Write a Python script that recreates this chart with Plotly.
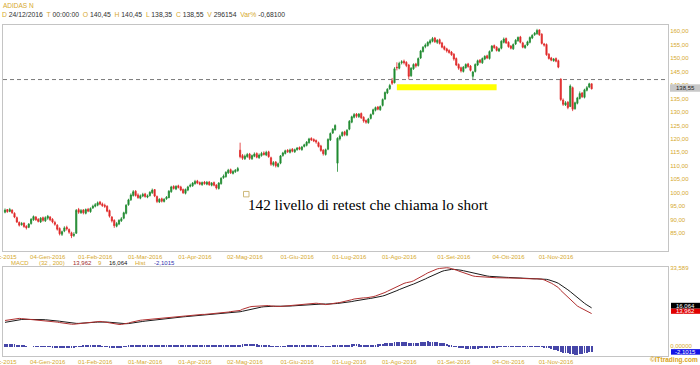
import plotly.graph_objects as go
import pandas as pd

# ---------------- data ----------------
opens = [
    92.8, 93.8, 93.1, 93.6, 92.4, 90.8, 89.0, 88.2, 88.8, 87.6,
    87.2, 88.6, 90.0, 91.0, 90.2, 89.2, 90.8, 89.6, 90.6, 91.0,
    90.2, 89.0, 88.0, 86.8, 84.6, 85.8, 87.2, 86.4, 85.2, 84.2,
    85.0, 93.8, 92.6, 93.6, 92.4, 93.9, 93.0, 94.4, 95.0, 95.4,
    96.6, 95.9, 95.4, 95.0, 93.4, 91.0, 89.8, 87.6, 88.4, 89.6,
    90.6, 92.4, 95.6, 97.4, 99.0, 100.6, 99.2, 98.0, 98.8, 99.6,
    98.4, 99.0, 100.0, 101.2, 98.6, 96.6, 97.8, 96.8, 97.8, 98.2,
    100.4, 102.4, 101.4, 102.6, 102.2, 101.2, 99.8, 101.0, 102.4, 102.6,
    103.4, 104.4, 103.8, 103.0, 104.0, 103.2, 104.0, 102.8, 103.8, 102.9,
    101.6, 103.4, 105.6, 106.0, 107.4, 108.6, 107.2, 107.8, 108.2, 115.8,
    113.8, 112.6, 113.4, 114.4, 112.6, 113.6, 114.6, 113.0, 113.8, 114.8,
    114.0, 115.2, 113.0, 110.4, 111.4, 109.8, 111.0, 113.8, 114.6, 115.8,
    115.0, 116.2, 115.2, 116.0, 116.8, 116.0, 117.2, 117.6, 118.6, 120.2,
    119.8, 119.4, 118.6, 117.4, 115.8, 114.2, 116.2, 119.6, 122.2, 123.4,
    111.0, 120.0, 121.2, 122.6, 121.4, 123.6, 126.2, 128.0, 129.2, 128.2,
    129.4, 128.0, 126.8, 126.0, 127.6, 129.2, 130.6, 131.8, 130.8, 132.4,
    134.8, 137.0, 138.6, 141.6, 140.8, 146.6, 146.2, 148.2, 148.8, 148.4,
    147.4, 143.4, 146.0, 147.8, 147.2, 150.0, 152.4, 154.2, 154.6, 155.6,
    156.2, 157.4, 155.8, 156.8, 155.6, 154.2, 153.4, 152.8, 152.2, 151.4,
    149.8, 147.6, 146.4, 145.0, 146.4, 147.8, 147.0, 143.2, 145.0, 147.4,
    149.2, 148.2, 149.6, 150.8, 149.8, 152.6, 154.6, 154.0, 152.6, 153.6,
    155.8, 157.2, 155.8, 154.4, 153.4, 155.2, 156.4, 157.8, 155.6, 153.8,
    154.8, 155.8, 157.4, 158.6, 159.0, 160.4, 158.8, 155.2, 155.0, 151.4,
    150.0, 149.0, 149.8, 149.0, 142.2, 134.4, 132.6, 133.6, 132.0, 139.0,
    131.2, 133.2, 135.0, 137.0, 135.4, 138.0, 139.2, 140.45,
]
highs = [
    94.2, 94.0, 94.4, 93.9, 92.8, 91.2, 89.4, 89.2, 89.0, 88.0,
    88.8, 90.6, 91.6, 91.4, 90.6, 91.0, 91.2, 91.3, 91.8, 91.4,
    90.6, 89.6, 88.4, 87.2, 86.0, 87.6, 87.8, 86.8, 85.6, 85.4,
    94.0, 94.4, 94.0, 94.0, 94.2, 94.4, 94.6, 95.6, 96.2, 96.8,
    97.0, 96.4, 96.0, 95.4, 93.8, 91.4, 90.2, 89.2, 90.2, 91.0,
    93.0, 95.8, 97.8, 99.8, 101.0, 101.0, 99.8, 99.4, 100.0, 100.0,
    99.4, 100.6, 101.6, 101.4, 99.0, 98.0, 98.2, 98.0, 98.8, 101.0,
    102.6, 102.8, 102.8, 103.0, 102.6, 101.6, 101.6, 102.6, 103.4, 104.0,
    104.8, 104.8, 104.2, 104.2, 104.4, 104.4, 104.4, 104.0, 104.2, 103.2,
    104.0, 105.8, 106.8, 108.0, 108.9, 109.0, 108.4, 108.8, 109.6, 118.6,
    114.4, 114.2, 114.8, 114.8, 114.2, 115.0, 115.0, 114.6, 115.2, 115.4,
    115.6, 115.6, 113.4, 111.8, 111.8, 111.2, 114.0, 115.2, 116.0, 116.2,
    116.4, 116.6, 116.4, 117.0, 117.2, 117.4, 118.2, 119.2, 120.4, 120.6,
    120.2, 119.8, 119.0, 117.8, 116.2, 116.4, 120.2, 122.4, 124.0, 125.4,
    120.6, 121.6, 122.8, 123.0, 123.6, 127.0, 128.6, 129.6, 129.6, 129.6,
    129.8, 128.4, 127.2, 127.8, 129.4, 131.2, 132.0, 132.2, 132.4, 135.0,
    137.6, 138.8, 140.4, 142.6, 146.6, 148.4, 148.6, 149.2, 149.4, 148.8,
    147.8, 146.6, 148.0, 148.2, 150.2, 153.0, 154.4, 155.4, 156.2, 157.0,
    157.8, 157.8, 157.0, 157.2, 156.0, 154.6, 153.8, 153.2, 152.6, 151.8,
    150.2, 148.0, 146.8, 147.0, 148.0, 148.2, 147.4, 145.2, 148.0, 149.4,
    149.6, 150.2, 151.0, 151.2, 152.8, 154.8, 155.0, 154.4, 153.8, 156.6,
    157.6, 157.6, 156.2, 154.8, 155.4, 157.0, 158.0, 158.2, 156.0, 155.0,
    156.4, 158.0, 158.8, 159.6, 160.8, 160.6, 159.2, 155.6, 155.4, 151.8,
    150.4, 150.0, 150.2, 149.4, 142.4, 135.0, 134.0, 134.0, 140.2, 139.4,
    133.8, 135.6, 137.6, 137.4, 138.6, 139.6, 140.8, 140.45,
]
lows = [
    92.4, 92.6, 92.8, 92.2, 90.6, 88.8, 87.5, 87.8, 87.0, 86.4,
    86.9, 88.2, 89.6, 89.6, 89.0, 88.8, 89.3, 89.2, 90.0, 89.5,
    88.7, 87.8, 86.0, 84.2, 84.0, 85.4, 86.0, 84.8, 83.2, 83.6,
    84.8, 92.2, 92.2, 92.0, 92.0, 92.8, 92.6, 94.0, 94.6, 95.0,
    95.4, 94.8, 94.4, 92.8, 90.8, 89.0, 87.0, 87.2, 88.0, 89.2,
    90.2, 92.0, 95.2, 97.0, 98.6, 98.6, 97.8, 97.6, 98.4, 98.2,
    98.0, 98.6, 99.6, 98.4, 96.2, 96.2, 96.4, 96.4, 97.4, 98.0,
    100.0, 101.2, 101.0, 101.6, 100.6, 99.6, 99.4, 100.6, 102.0, 102.2,
    103.0, 103.2, 102.8, 102.6, 103.0, 102.8, 102.6, 102.4, 102.4, 101.2,
    101.2, 103.0, 105.2, 105.6, 107.0, 107.0, 106.8, 107.4, 107.8, 112.8,
    112.2, 112.2, 113.0, 112.2, 112.2, 113.2, 112.8, 112.6, 113.4, 113.8,
    113.6, 113.0, 110.0, 109.8, 109.4, 109.4, 110.6, 113.4, 114.2, 114.8,
    114.6, 115.0, 114.8, 115.6, 115.8, 115.6, 116.8, 117.2, 118.2, 119.2,
    118.8, 118.2, 116.8, 115.2, 113.8, 113.8, 115.8, 119.2, 121.8, 123.0,
    107.8, 119.4, 120.8, 121.0, 121.0, 123.2, 125.8, 127.6, 127.8, 127.8,
    127.4, 126.0, 125.6, 125.6, 127.2, 128.8, 130.2, 130.6, 130.4, 132.0,
    134.4, 136.6, 138.2, 140.0, 140.6, 145.4, 145.8, 147.6, 147.6, 146.6,
    142.0, 143.0, 145.6, 146.4, 146.8, 149.6, 152.0, 153.6, 154.2, 155.0,
    155.8, 155.6, 155.2, 155.0, 153.6, 152.8, 152.0, 151.6, 150.8, 149.0,
    147.0, 145.6, 144.6, 144.6, 146.0, 146.4, 145.0, 142.2, 144.6, 147.0,
    148.0, 147.8, 149.2, 149.6, 149.4, 152.2, 153.4, 152.4, 152.2, 153.2,
    155.4, 155.2, 153.8, 153.2, 153.0, 154.8, 156.0, 155.4, 153.6, 153.4,
    154.4, 155.4, 157.0, 158.2, 158.6, 158.2, 155.0, 154.2, 150.8, 149.4,
    148.8, 148.6, 148.4, 146.2, 134.0, 132.2, 132.2, 131.0, 131.8, 130.3,
    130.8, 132.8, 134.6, 135.2, 135.0, 137.6, 138.8, 138.35,
]
closes = [
    93.6, 93.0, 93.8, 92.6, 91.0, 89.2, 88.0, 88.6, 87.5, 87.0,
    88.4, 90.2, 91.2, 90.0, 89.4, 90.6, 89.8, 90.8, 91.3, 90.0,
    89.2, 88.3, 86.5, 84.8, 85.6, 87.0, 86.6, 85.4, 84.0, 84.6,
    93.5, 92.8, 93.4, 92.6, 93.8, 93.2, 94.2, 95.0, 95.6, 96.3,
    95.8, 95.2, 95.0, 93.2, 91.3, 89.6, 87.8, 88.6, 89.8, 90.4,
    92.6, 95.4, 97.4, 99.2, 100.4, 99.0, 98.2, 98.9, 99.4, 98.6,
    98.9, 100.2, 101.0, 98.8, 96.8, 97.6, 96.9, 97.6, 98.4, 100.6,
    102.2, 101.6, 102.4, 102.0, 101.0, 100.0, 101.2, 102.2, 102.8, 103.6,
    104.2, 103.6, 103.2, 103.8, 103.4, 103.9, 103.0, 103.6, 102.8, 101.8,
    103.6, 105.4, 106.2, 107.6, 108.4, 107.4, 107.9, 108.4, 109.0, 113.4,
    112.8, 113.6, 114.2, 112.8, 113.8, 114.4, 113.2, 114.0, 114.6, 114.2,
    115.0, 113.4, 110.6, 111.2, 110.0, 110.8, 113.7, 114.8, 115.6, 115.2,
    115.9, 115.4, 116.0, 116.6, 116.2, 117.0, 117.8, 118.8, 120.0, 119.6,
    119.2, 118.8, 117.2, 115.7, 114.5, 116.0, 119.8, 122.0, 123.6, 125.0,
    120.2, 121.0, 122.4, 121.6, 123.2, 126.5, 128.2, 129.0, 128.4, 129.2,
    127.8, 126.6, 126.2, 127.4, 129.0, 130.8, 131.6, 131.0, 132.0, 134.6,
    137.2, 138.4, 139.8, 140.6, 146.0, 146.4, 148.0, 148.6, 148.2, 147.2,
    143.2, 146.2, 147.6, 147.0, 149.8, 152.6, 154.0, 154.8, 155.8, 156.4,
    157.2, 156.0, 156.6, 155.4, 154.0, 153.2, 152.6, 152.0, 151.2, 149.6,
    147.4, 146.2, 145.2, 146.6, 147.6, 146.8, 145.4, 144.8, 147.6, 149.0,
    148.4, 149.8, 150.6, 150.0, 152.4, 154.4, 153.8, 152.8, 153.4, 156.2,
    157.0, 155.6, 154.2, 153.6, 155.0, 156.6, 157.6, 155.8, 154.0, 154.6,
    156.0, 157.6, 158.4, 159.2, 160.2, 158.6, 155.4, 154.8, 151.2, 149.8,
    149.2, 149.6, 148.8, 146.6, 134.6, 132.8, 133.4, 131.6, 139.6, 131.0,
    133.4, 135.2, 136.8, 135.6, 138.2, 139.0, 140.4, 138.55,
]
# MACD (32, 200) line values
macd = [
    11.0, 11.2, 11.4, 11.6, 11.8, 11.9,
    11.9, 11.8, 11.7, 11.6, 11.5, 11.5, 11.4, 11.4, 11.3, 11.3, 11.2, 11.1, 11.0,
    10.9, 10.7, 10.5, 10.3, 10.1, 9.9, 9.7, 9.6, 9.5, 9.4, 9.4,
    9.5, 9.7, 9.9, 10.0, 10.2, 10.3, 10.4, 10.5, 10.6, 10.6, 10.6, 10.5,
    10.3, 10.1, 9.9, 9.7, 9.5, 9.4, 9.3, 9.3, 9.4,
    9.6, 9.9, 10.2, 10.5, 10.8, 11.0, 11.1, 11.2, 11.3, 11.4, 11.5, 11.7, 11.8, 11.9,
    12.0, 12.0, 12.1, 12.2, 12.3, 12.5, 12.6, 12.7, 12.8, 12.9, 12.9, 13.0, 13.1, 13.2, 13.3, 13.4, 13.4, 13.5, 13.6,
    13.6, 13.7, 13.7, 13.8, 13.8, 13.8, 13.9, 14.0, 14.2, 14.4, 14.6, 14.8, 14.9, 15.0, 15.1, 15.3,
    15.8, 16.2, 16.5, 16.8, 17.0, 17.1, 17.2, 17.3, 17.4, 17.4, 17.5, 17.4,
    17.2, 17.1, 17.0, 16.9, 17.0, 17.1, 17.2, 17.3, 17.4, 17.5, 17.6, 17.7, 17.8, 17.9, 18.0, 18.1, 18.2, 18.3,
    18.4, 18.4, 18.3, 18.1, 17.9, 17.8, 17.9, 18.1, 18.4, 18.7, 18.6, 18.7, 18.9, 19.0, 19.3,
    19.6, 19.9, 20.2, 20.4, 20.6, 20.7, 20.7, 20.7, 20.8, 21.0, 21.2, 21.5, 21.8, 22.1,
    22.5, 23.0, 23.5, 24.0, 24.4, 25.1, 25.6, 26.1, 26.5,
    26.9, 27.2, 27.3, 27.6, 28.0, 28.5, 29.0, 29.6, 30.2,
    30.8, 31.4, 31.9, 32.4, 32.8, 33.1, 33.3, 33.5, 33.6, 33.6,
    33.5, 33.3, 33.0, 32.6, 32.2, 31.8, 31.5,
    31.1, 30.8, 30.5, 30.1, 29.9, 29.8, 29.7, 29.6, 29.5, 29.5, 29.4, 29.4,
    29.4, 29.3, 29.3, 29.3, 29.4, 29.4, 29.3, 29.2, 29.2, 29.2, 29.2, 29.1, 29.0, 28.9, 28.8, 28.8, 28.8, 28.8, 28.9, 28.9,
    28.7, 28.4, 28.0, 27.5, 27.0, 26.4, 25.8, 25.1,
    23.9, 22.9, 22.0, 21.1, 20.2, 19.0, 17.9, 17.2, 16.6, 16.0, 15.4, 14.9, 14.4, 13.96,
]
SIGNAL_PERIOD = 9
SIGNAL_START = 10.0

TICK_DATES = ['2016-01-04', '2016-02-01', '2016-03-01', '2016-04-01', '2016-05-02', '2016-06-01',
              '2016-07-01', '2016-08-01', '2016-09-01', '2016-10-04', '2016-11-01']
TICK_LABELS = ['04-Gen-2016', '01-Feb-2016', '01-Mar-2016', '01-Apr-2016', '02-Mag-2016', '01-Giu-2016',
               '01-Lug-2016', '01-Ago-2016', '01-Set-2016', '04-Ott-2016', '01-Nov-2016']
FIRST_LABEL = '01-Dic-2015'
PRICE_TICKS = [85, 90, 95, 100, 105, 110, 115, 120, 125, 130, 135, 140, 145, 150, 155, 160]
MACD_TICKS = [0.0, 33.589]
MACD_TICK_TEXT = ['0,00000', '33,589']
RETEST_LEVEL = 142.0
ZONE_LOW, ZONE_HIGH = 138.0, 140.3
ZONE_START, ZONE_END = '2016-07-29', '2016-09-27'
HOLIDAYS = ['2015-12-24', '2015-12-25', '2015-12-31', '2016-01-01', '2016-03-25', '2016-03-28']

TITLE = 'ADIDAS N'
HDR_DATE, HDR_TIME = '24/12/2016', '00:00:00'
HDR_O, HDR_H, HDR_L, HDR_C, HDR_V, HDR_VAR = '140,45', '140,45', '138,35', '138,55', '296154', '-0,68100'
MACD_PARAMS = '(32 , 200)'
MACD_VAL, SIG_VAL, HIST_VAL = '13,962', '16,064', '-2,1015'
NOTE = '142 livello di retest che chiama lo short'

assert len(opens) == len(highs) == len(lows) == len(closes) == len(macd)

# ---------------- derived ----------------
dates = pd.bdate_range('2015-12-03', periods=len(closes), freq='C', holidays=HOLIDAYS)
xs = dates.strftime('%Y-%m-%d').tolist()

alpha = 2.0 / (SIGNAL_PERIOD + 1)
signal = []
s = SIGNAL_START
for m in macd:
    s = s + (m - s) * alpha
    signal.append(s)
hist = [m - sg for m, sg in zip(macd, signal)]

W, H = 700, 365
def px(x):
    return x / W
def py(y):
    return 1 - y / H

GOLD = '#d6a92e'
BORDER = '#c4c4c4'
GREEN = '#1f8a30'
RED = '#e02828'
FONT = 'Liberation Sans, Arial, sans-serif'

fig = go.Figure()
fig.add_trace(go.Candlestick(
    x=xs, open=opens, high=highs, low=lows, close=closes,
    increasing=dict(line=dict(color=GREEN, width=0.8), fillcolor=GREEN),
    decreasing=dict(line=dict(color=RED, width=0.8), fillcolor=RED),
    whiskerwidth=0, xaxis='x', yaxis='y', hoverinfo='skip'))
fig.add_trace(go.Bar(x=xs, y=hist, marker=dict(color='#4646a8', line=dict(width=0)),
                     width=0.4, xaxis='x2', yaxis='y2', hoverinfo='skip'))
fig.add_trace(go.Scatter(x=xs, y=signal, mode='lines', line=dict(color='#1a1a1a', width=1),
                         xaxis='x2', yaxis='y2', hoverinfo='skip'))
fig.add_trace(go.Scatter(x=xs, y=macd, mode='lines', line=dict(color='#b03030', width=1),
                         xaxis='x2', yaxis='y2', hoverinfo='skip'))

x_idx_range = [-0.84, 279.16]
tickfont = dict(family=FONT, size=6, color=GOLD)
common_x = dict(type='category', range=x_idx_range, tickmode='array', tickvals=TICK_DATES,
                ticktext=TICK_LABELS, showgrid=False, zeroline=False, showline=True, mirror=True,
                linecolor=BORDER, linewidth=1, ticks='', tickfont=tickfont,
                domain=[px(3), px(668)], fixedrange=True)

fig.update_layout(
    width=W, height=H, margin=dict(l=0, r=0, t=0, b=0),
    paper_bgcolor='white', plot_bgcolor='white', showlegend=False, bargap=0,
    font=dict(family=FONT, size=6, color=GOLD),
    xaxis=dict(anchor='y', rangeslider=dict(visible=False), **common_x),
    xaxis2=dict(anchor='y2', matches='x', **common_x),
    yaxis=dict(anchor='x', domain=[py(251), py(23)], range=[78.45, 162.3], side='right',
               tickmode='array', tickvals=PRICE_TICKS,
               ticktext=[f'{v:.2f}'.replace('.', ',') for v in PRICE_TICKS],
               showgrid=False, zeroline=False, showline=True, mirror=True, linecolor=BORDER,
               ticks='', tickfont=tickfont),
    yaxis2=dict(anchor='x2', domain=[py(357), py(267)], range=[-4.25, 34.0], side='right',
                tickmode='array', tickvals=MACD_TICKS, ticktext=MACD_TICK_TEXT,
                showgrid=False, zeroline=False, showline=True, mirror=True, linecolor=BORDER,
                ticks='', tickfont=tickfont),
)

# shapes
fig.add_shape(type='rect', xref='x', yref='y', x0=ZONE_START, x1=ZONE_END, y0=ZONE_LOW, y1=ZONE_HIGH,
              fillcolor='#ffff00', line=dict(width=0), layer='below')
fig.add_shape(type='line', xref='x domain', yref='y', x0=0, x1=1, y0=RETEST_LEVEL, y1=RETEST_LEVEL,
              line=dict(color='#7a7a7a', width=1, dash='4px,3px'))
fig.add_shape(type='rect', xref='paper', yref='paper', x0=px(243.5), x1=px(249), y0=py(196.5), y1=py(191),
              line=dict(color='#cdb87a', width=1), fillcolor='rgba(0,0,0,0)')

def box(x0, x1, y0, y1, color):
    fig.add_shape(type='rect', xref='paper', yref='paper', x0=px(x0), x1=px(x1), y0=py(y1), y1=py(y0),
                  fillcolor=color, line=dict(width=0))

box(670, 700, 83, 90.5, '#c8c8c8')
box(671, 700, 303.3, 309.2, '#000000')
box(671, 700, 309.2, 314.4, '#e00000')
box(671, 700, 350, 355.6, '#1414e6')

def note(x, y, text, color='#000000', size=6, xanchor='left', family=FONT):
    fig.add_annotation(xref='paper', yref='paper', x=px(x), y=py(y), text=text, showarrow=False,
                       xanchor=xanchor, yanchor='middle', font=dict(family=family, size=size, color=color))

def g(t):
    return f'<span style="color:{GOLD}">{t}</span>'

note(1, 4, TITLE, GOLD, 6.5)
hdr = (f'{g("D")} {HDR_DATE} &nbsp;{g("T")} {HDR_TIME} &nbsp;{g("O")} {HDR_O} &nbsp;{g("H")} {HDR_H}'
       f' &nbsp;{g("L")} {HDR_L} &nbsp;{g("C")} {HDR_C} &nbsp;{g("V")} {HDR_V} &nbsp;{g("Var%")} {HDR_VAR}')
note(0, 12.7, hdr, '#303030', 6.8)

note(685, 86.8, f'{closes[-1]:.2f}'.replace('.', ','), '#202020', 6, 'center')
note(685.5, 306.3, SIG_VAL, '#ffffff', 6, 'center')
note(685.5, 311.8, MACD_VAL, '#ffffff', 6, 'center')
note(685.5, 352.8, HIST_VAL, '#ffffff', 6, 'center')
note(700, 361, '<b>©ITtrading.com</b>', '#d9a520', 6.5, 'right')

note(9, 263.5, 'MACD', GOLD)
note(37, 263.5, MACD_PARAMS, GOLD)
note(71, 263.5, MACD_VAL, '#a02828')
note(96, 263.5, str(SIGNAL_PERIOD), GOLD)
note(107, 263.5, SIG_VAL, '#101010')
note(133, 263.5, 'Hist', GOLD)
note(152, 263.5, HIST_VAL, '#3030b0')

note(0, 257.5, FIRST_LABEL, GOLD, 6, 'center')
note(0, 362.5, FIRST_LABEL, GOLD, 6, 'center')

note(246, 204.5, NOTE, '#000000', 15.2, 'left', 'Liberation Serif, Times New Roman, serif')

fig.write_html('out.html')
